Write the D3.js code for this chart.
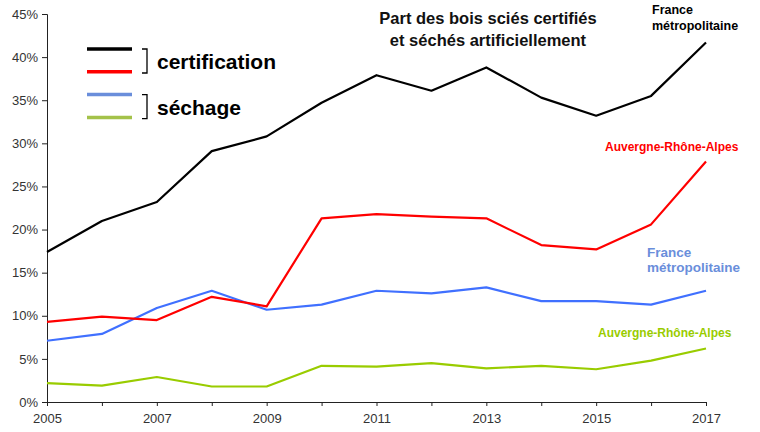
<!DOCTYPE html>
<html>
<head>
<meta charset="utf-8">
<script src="https://cdn.jsdelivr.net/npm/d3@7"></script>
<style>
  body { margin: 0; background: #fff; }
  svg { font-family: "Liberation Sans", Arial, sans-serif; }
  .tick text { fill: #333; font-size: 13px; }
</style>
</head>
<body>
<div id="chart"></div>
<script>
const years = [2005, 2006, 2007, 2008, 2009, 2010, 2011, 2012, 2013, 2014, 2015, 2016, 2017];
const yearLabels = [2005, 2007, 2009, 2011, 2013, 2015, 2017];
const yTicks = [0, 5, 10, 15, 20, 25, 30, 35, 40, 45];

const certFrance = [17.4, 21.0, 23.2, 29.1, 30.8, 34.7, 37.9, 36.1, 38.8, 35.3, 33.2, 35.5, 41.7];
const certAura = [9.3, 9.9, 9.5, 12.2, 11.1, 21.3, 21.8, 21.5, 21.3, 18.2, 17.7, 20.6, 27.9];
const sechFrance = [7.1, 7.9, 10.9, 12.9, 10.7, 11.3, 12.9, 12.6, 13.3, 11.7, 11.7, 11.3, 12.9];
const sechAura = [2.2, 1.9, 2.9, 1.8, 1.8, 4.2, 4.1, 4.5, 3.9, 4.2, 3.8, 4.8, 6.2];

const W = 760, H = 432;
const margin = { top: 14, right: 54, bottom: 30, left: 47 };
const width = W - margin.left - margin.right;
const height = H - margin.top - margin.bottom;

const svg = d3.select('#chart')
  .append('svg')
  .attr('width', W)
  .attr('height', H);

const g = svg.append('g')
  .attr('transform', 'translate(' + margin.left + ',' + margin.top + ')');

const x = d3.scaleLinear().domain([2005, 2017]).range([0, width]);
const y = d3.scaleLinear().domain([0, 45]).range([height, 0]);

// axes
g.append('g')
  .attr('transform', 'translate(0,' + height + ')')
  .call(d3.axisBottom(x).tickValues(years).tickSize(4).tickPadding(8)
    .tickFormat(d => yearLabels.includes(d) ? d : ''))
  .call(a => a.select('.domain').attr('stroke', '#222'))
  .call(a => a.selectAll('.tick line').attr('stroke', '#222'));

g.append('g')
  .call(d3.axisLeft(y).tickValues(yTicks).tickSize(5).tickPadding(4)
    .tickFormat(d => d + '%'))
  .call(a => a.select('.domain').attr('stroke', '#222'))
  .call(a => a.selectAll('.tick line').attr('stroke', '#222'));

const line = d3.line().x((d, i) => x(years[i])).y(d => y(d));

const series = [
  { values: sechAura, color: '#99CC00' },
  { values: sechFrance, color: '#4070FF' },
  { values: certAura, color: '#FF0000' },
  { values: certFrance, color: '#000000' }
];

g.selectAll('.serie')
  .data(series)
  .enter()
  .append('path')
  .attr('class', 'serie')
  .attr('d', d => line(d.values))
  .attr('fill', 'none')
  .attr('stroke', d => d.color)
  .attr('stroke-width', 2.2)
  .attr('stroke-linejoin', 'round');

// legend
const legendColors = ['#000000', '#FF0000', '#6A8EDB', '#A4C24A'];
svg.selectAll('.legend-line')
  .data(legendColors)
  .enter()
  .append('line')
  .attr('class', 'legend-line')
  .attr('x1', 87)
  .attr('x2', 132)
  .attr('y1', (d, i) => 49 + i * 22.8)
  .attr('y2', (d, i) => 49 + i * 22.8)
  .attr('stroke', d => d)
  .attr('stroke-width', 3.5);

const groups = ['certification', 'séchage'];
groups.forEach((t, i) => {
  const top = 49 + i * 45.6, bot = top + 24;
  svg.append('path')
    .attr('d', `M142,${top} H147 V${bot} H142`)
    .attr('fill', 'none')
    .attr('stroke', '#000')
    .attr('stroke-width', 1.3);
  svg.append('text')
    .attr('x', 157)
    .attr('y', top + 20)
    .attr('font-size', 21)
    .attr('font-weight', 'bold')
    .text(t);
});

// title
const title = svg.append('text')
  .attr('x', 488)
  .attr('text-anchor', 'middle')
  .attr('font-size', 16.5)
  .attr('font-weight', 'bold')
  .attr('fill', '#111');
title.append('tspan').attr('x', 488).attr('y', 24).text('Part des bois sciés certifiés');
title.append('tspan').attr('x', 488).attr('y', 46).text('et séchés artificiellement');

// series labels
function label(lines, xPos, yPos, size, color, lh) {
  const t = svg.append('text')
    .attr('font-size', size)
    .attr('font-weight', 'bold')
    .attr('fill', color);
  lines.forEach((l, i) => {
    t.append('tspan').attr('x', xPos).attr('y', yPos + i * lh).text(l);
  });
}
label(['France', 'métropolitaine'], 652, 14, 12.5, '#000', 16);
label(['Auvergne-Rhône-Alpes'], 605, 151, 12, '#FF0000', 0);
label(['France', 'métropolitaine'], 647, 257, 13.5, '#6A8EDB', 15);
label(['Auvergne-Rhône-Alpes'], 598, 337, 12, '#99CC00', 0);
</script>
</body>
</html>
